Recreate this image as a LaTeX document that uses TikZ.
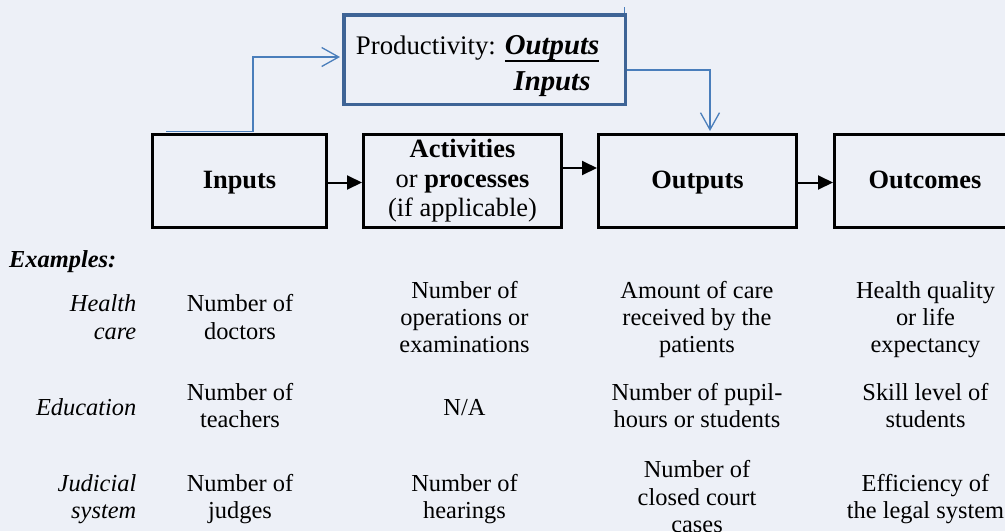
\documentclass[tikz,border=0pt]{standalone}
\usepackage{fontspec}
\setmainfont{LiberationSerif}[Extension=.ttf, UprightFont=*-Regular, BoldFont=*-Bold, ItalicFont=*-Italic, BoldItalicFont=*-BoldItalic]
\usetikzlibrary{arrows.meta}
\definecolor{bgc}{RGB}{237,240,247}
\definecolor{prodblue}{RGB}{62,100,150}
\definecolor{linkblue}{RGB}{74,126,187}
\newcommand\ulOut[1]{\setbox0\hbox{#1}\rlap{\rule[-8.2pt]{\wd0}{2.4pt}}\box0}
\begin{document}
\begin{tikzpicture}[x=1pt,y=-1pt,
  stage/.style={draw=black, line width=3pt, inner sep=0pt, align=center,
    font=\fontsize{26.4}{29.5}\selectfont,
    execute at begin node={\rule{0pt}{21pt}},
    execute at end node={\rule[-6pt]{0pt}{6pt}},
    minimum height=93pt},
  prodbox/.style={draw=prodblue, line width=3.5pt, inner sep=0pt,
    minimum width=281.5pt, minimum height=89.5pt, text height=20pt, text depth=31pt},
  flow/.style={draw=black, line width=2pt, -{Triangle[length=15pt,width=14pt]}},
  linkarrow/.style={draw=linkblue, line width=1.3pt, -{Straight Barb[length=17pt,width=19pt]}, shorten >=2pt},
  cell/.style={inner sep=0pt, align=center, font=\fontsize{24.4}{27.3}\selectfont,
    execute at begin node={\rule{0pt}{19pt}},
    execute at end node={\rule[-8pt]{0pt}{8pt}}},
  rowlab/.style={cell, align=right, anchor=east, font=\fontsize{24.4}{27.3}\selectfont\itshape}
]
\useasboundingbox (0,0) rectangle (1005,531);
\clip (0,0) rectangle (1005,531);
\fill[bgc] (0,0) rectangle (1005,531);

% stage boxes
\node[stage, minimum width=174pt] (inputs) at (239.5,181) {\textbf{Inputs}};
\node[stage, minimum width=198pt] (activities) at (462.5,181) {\textbf{Activities}\\ or \textbf{processes}\\ (if applicable)};
\node[stage, minimum width=198pt] (outputs) at (697.5,181) {\textbf{Outputs}};
\node[stage, minimum width=181pt] (outcomes) at (925,181) {\textbf{Outcomes}};

% productivity box
\node[prodbox] (prod) at (484.5,59.5) {\fontsize{26.8}{32}\selectfont\renewcommand\arraystretch{1.125}Productivity: \begin{tabular}[t]{@{}c@{}}\ulOut{\fontsize{28.8}{34.6}\selectfont\textbf{\textit{Outputs}}}\\ \fontsize{28.8}{34.6}\selectfont\textbf{\textit{Inputs}}\end{tabular}\hspace*{13.8pt}};

% flow arrows
\draw[flow] ([yshift=-1.5pt]inputs.east) -- ([yshift=-1.5pt]activities.west);
\draw[flow] ([yshift=13pt]activities.east) -- ([yshift=13pt]outputs.west);
\draw[flow] ([yshift=-1.5pt]outputs.east) -- ([yshift=-1.5pt]outcomes.west);

% blue links
\coordinate (inlink) at (166,131.5);
\draw[linkarrow] (inlink) -- ++(87,0) |- ([yshift=2.5pt]prod.west);
\draw[linkarrow] ([yshift=-10.5pt]prod.east) -| ([xshift=12.5pt]outputs.north);
\coordinate (tk) at (624,7);
\draw[linkblue, line width=1pt] (tk) -- (tk |- prod.north);

% examples
\node[anchor=base west, inner sep=0pt, font=\fontsize{24.4}{27.3}\selectfont\bfseries\itshape] (examples) at (9,267) {Examples:};

\node[rowlab] (hc) at (136.5,321) {Health\\ care};
\node[cell] (hc1) at (240,321) {Number of\\ doctors};
\node[cell] (hc2) at (464.5,321) {Number of\\ operations or\\ examinations};
\node[cell] (hc3) at (697,321) {Amount of care\\ received by the\\ patients};
\node[cell] (hc4) at (925.5,321) {Health quality\\ or life\\ expectancy};

\node[rowlab] (ed) at (136.5,409.5) {Education};
\node[cell] (ed1) at (240,409.5) {Number of\\ teachers};
\node[cell] (ed2) at (464.5,409.5) {N/A};
\node[cell] (ed3) at (697,409.5) {Number of pupil-\\ hours or students};
\node[cell] (ed4) at (925.5,409.5) {Skill level of\\ students};

\node[rowlab] (js) at (136.5,500.5) {Judicial\\ system};
\node[cell] (js1) at (240,500.5) {Number of\\ judges};
\node[cell] (js2) at (464.5,500.5) {Number of\\ hearings};
\node[cell] (js3) at (697,500.5) {Number of\\ closed court\\ cases};
\node[cell] (js4) at (925.5,500.5) {Efficiency of\\ the legal system};
\end{tikzpicture}
\end{document}
